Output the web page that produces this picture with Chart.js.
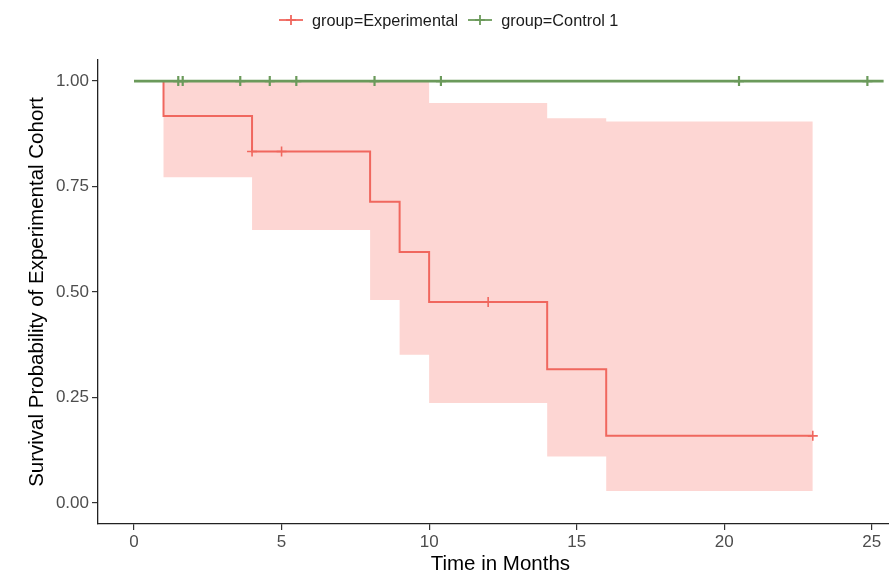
<!DOCTYPE html>
<html>
<head>
<meta charset="utf-8">
<script src="https://cdn.jsdelivr.net/npm/chart.js@4.4.1/dist/chart.umd.min.js"></script>
<style>
  html, body { margin: 0; padding: 0; background: #fff; overflow: hidden; }
  #wrap { position: relative; width: 889px; height: 577px; overflow: hidden; }
  #box { position: absolute; left: 0; top: 0; width: 910px; height: 577px; }
  #legend {
    position: absolute; top: 10px; left: 279px; height: 20px;
    display: flex; align-items: center;
    font-family: 'Liberation Sans', Arial, sans-serif; font-size: 16.3px; color: #1a1a1a;
  }
  .item { display: flex; align-items: center; margin-right: 10px; }
  .item svg { margin-right: 9px; }
</style>
</head>
<body>
<div id="wrap">
  <div id="box"><canvas id="km"></canvas></div>
  <div id="legend"></div>
</div>
<script>
// ─── DATA ────────────────────────────────────────────────────────────────────
const GROUPS = ['group=Experimental', 'group=Control 1'];

// experimental arm: Kaplan-Meier steps + 95% CI
const EXP_TIME  = [0, 1, 4, 8, 9, 10, 14, 16, 23];
const EXP_SURV  = [1, 0.917, 0.833, 0.714, 0.595, 0.476, 0.317, 0.159, 0.159];
const EXP_UPPER = [1, 1, 1, 1, 1, 0.948, 0.912, 0.904, 0.904];
const EXP_LOWER = [1, 0.772, 0.647, 0.481, 0.351, 0.237, 0.110, 0.028, 0.028];
const EXP_CENSOR_TIME = [4, 5, 12, 23];
const EXP_CENSOR_SURV = [0.833, 0.833, 0.476, 0.159];

// control arm: nobody died
const CTL_TIME = [0, 25.4];
const CTL_SURV = [1, 1];
const CTL_CENSOR_TIME = [1.5, 1.65, 3.6, 4.6, 5.5, 8.15, 10.4, 20.5, 24.85];
const CTL_CENSOR_SURV = [1, 1, 1, 1, 1, 1, 1, 1, 1];

const X_TICKS = [0, 5, 10, 15, 20, 25];
const Y_TICKS = [0, 0.25, 0.5, 0.75, 1];

// ─── STYLE ───────────────────────────────────────────────────────────────────
const RED   = '#F0675E';
const GREEN = '#6B9A5B';
const BAND  = 'rgba(248,118,109,0.3)';
const FONT  = "'Liberation Sans', Arial, sans-serif";

const pts = (xs, ys) => xs.map((x, i) => ({ x, y: ys[i] }));

// ─── LEGEND ──────────────────────────────────────────────────────────────────
function keySvg(color, w) {
  return `<svg width="24" height="14">
    <line x1="0" y1="7" x2="24" y2="7" stroke="${color}" stroke-width="${w}"/>
    <line x1="12" y1="2" x2="12" y2="12" stroke="${color}" stroke-width="${w}"/>
    <line x1="7" y1="7" x2="17" y2="7" stroke="${color}" stroke-width="${w}"/>
  </svg>`;
}
document.getElementById('legend').innerHTML = [
  { name: GROUPS[0], color: RED, w: 1.8 },
  { name: GROUPS[1], color: GREEN, w: 1.8 },
].map(g => `<div class="item">${keySvg(g.color, g.w)}<span>${g.name}</span></div>`).join('');

// ─── CHART ───────────────────────────────────────────────────────────────────
const ctx = document.getElementById('km').getContext('2d');

new Chart(ctx, {
  type: 'line',
  data: {
    datasets: [
      // first index is painted last (on top)
      {
        label: 'ctl-censor',
        data: pts(CTL_CENSOR_TIME, CTL_CENSOR_SURV),
        showLine: false,
        pointStyle: 'cross',
        pointRadius: 5,
        pointBorderWidth: 2.2,
        borderColor: GREEN,
        pointBorderColor: GREEN,
      },
      {
        label: GROUPS[1],
        data: pts(CTL_TIME, CTL_SURV),
        stepped: true,
        borderColor: GREEN,
        borderWidth: 2.6,
        pointRadius: 0,
        fill: false,
      },
      {
        label: 'exp-censor',
        data: pts(EXP_CENSOR_TIME, EXP_CENSOR_SURV),
        showLine: false,
        pointStyle: 'cross',
        pointRadius: 5,
        pointBorderWidth: 1.6,
        borderColor: RED,
        pointBorderColor: RED,
      },
      {
        label: GROUPS[0],
        data: pts(EXP_TIME, EXP_SURV),
        stepped: true,
        borderColor: RED,
        borderWidth: 2,
        pointRadius: 0,
        fill: false,
      },
      {
        label: 'upper',
        data: pts(EXP_TIME, EXP_UPPER),
        stepped: true,
        borderColor: 'transparent',
        borderWidth: 0,
        pointRadius: 0,
        backgroundColor: BAND,
        fill: '+1',
      },
      {
        label: 'lower',
        data: pts(EXP_TIME, EXP_LOWER),
        stepped: true,
        borderColor: 'transparent',
        borderWidth: 0,
        pointRadius: 0,
        fill: false,
      },
    ]
  },
  options: {
    responsive: true,
    maintainAspectRatio: false,
    animation: false,
    layout: { padding: { top: 60, left: 0, right: 0, bottom: 0 } },
    plugins: {
      legend: { display: false },
      tooltip: { enabled: false },
    },
    scales: {
      x: {
        type: 'linear',
        min: -1.22,
        max: 26.05,
        afterBuildTicks: s => { s.ticks = X_TICKS.map(v => ({ value: v })); },
        afterFit: s => { s.height = 53; },
        grid: { drawOnChartArea: false, drawTicks: true, tickLength: 6, color: '#333', lineWidth: 1.2 },
        border: { display: true, color: '#222', width: 1.3 },
        ticks: {
          color: '#4d4d4d', padding: 2, maxRotation: 0,
          font: { family: FONT, size: 17 },
          callback: v => String(v),
        },
        title: {
          display: true, text: 'Time in Months', color: '#000',
          font: { family: FONT, size: 20.5 },
          padding: { top: 0, bottom: 0 },
        },
      },
      y: {
        type: 'linear',
        min: -0.05,
        max: 1.05,
        afterBuildTicks: s => { s.ticks = Y_TICKS.map(v => ({ value: v })); },
        afterFit: s => { s.width = 98; },
        grid: { drawOnChartArea: false, drawTicks: true, tickLength: 6, color: '#333', lineWidth: 1.2 },
        border: { display: true, color: '#222', width: 1.3 },
        ticks: {
          color: '#4d4d4d', padding: 3,
          font: { family: FONT, size: 17 },
          callback: v => v.toFixed(2),
        },
        title: {
          display: true, text: 'Survival Probability of Experimental Cohort', color: '#000',
          font: { family: FONT, size: 20.5 },
          padding: { top: 25, bottom: 0 },
        },
      },
    },
  },
});
</script>
</body>
</html>
